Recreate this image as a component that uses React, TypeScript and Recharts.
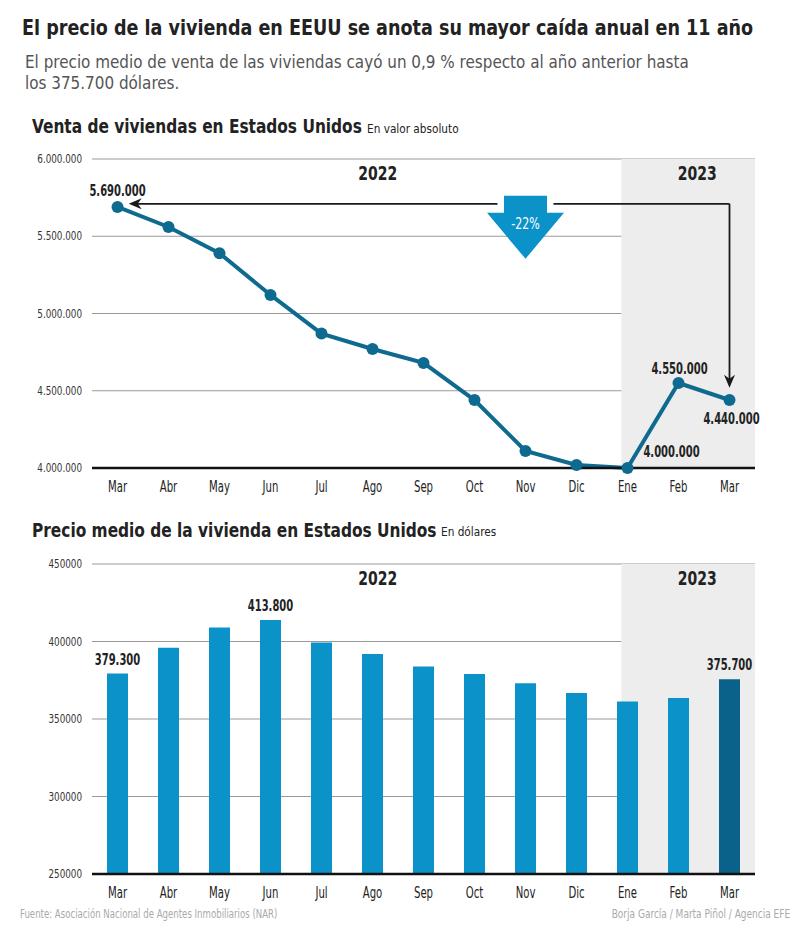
import React from 'react';
import {
  LineChart, Line, BarChart, Bar, XAxis, YAxis, CartesianGrid,
  ReferenceArea, ReferenceLine, ReferenceDot, LabelList, Cell,
} from 'recharts';

const months = ['Mar', 'Abr', 'May', 'Jun', 'Jul', 'Ago', 'Sep', 'Oct', 'Nov', 'Dic', 'Ene', 'Feb', 'Mar'];
const salesValues = [5690000, 5560000, 5390000, 5120000, 4870000, 4770000, 4680000, 4440000, 4110000, 4020000, 4000000, 4550000, 4440000];
const priceValues = [379300, 396000, 409000, 413800, 399300, 392000, 383800, 379000, 373000, 366700, 361300, 363500, 375700];
const salesTicks = [4000000, 4500000, 5000000, 5500000, 6000000];
const priceTicks = [250000, 300000, 350000, 400000, 450000];
const years = ['2022', '2023'];
const salesLabelIdx = [0, 10, 11, 12];
const priceLabelIdx = [0, 3, 12];
const changeLabel = '-22%';
const arrowLevel = 5710000;
const arrowEnd = 4520000;
const start2023 = 9.88;
const arrowAt = 8;

const FONT = '"DejaVu Sans Condensed", "Liberation Sans Narrow", "Arial Narrow", sans-serif';
const LINE_C = '#0f6a90';
const BAR_C = '#0b93c9';
const BAR_DARK = '#0a6189';
const GRAY = '#ededed';
const NARROW = 0.74;

const salesData = salesValues.map((v, i) => ({ i, v }));
const priceData = priceValues.map((v, i) => ({ i, v }));
const lo = -0.5;
const hi = months.length - 0.5;
const boundaryTicks = months.map((_, i) => i - 0.5).concat([hi]);
const centerTicks = months.map((_, i) => i);

const fmtDots = (n: number) => String(Math.round(n)).replace(/\B(?=(\d{3})+(?!\d))/g, '.');

const CT = ({ x, y, sx, children, ...rest }: any) => (
  <text transform={`translate(${x},${y}) scale(${sx},1)`} x={0} y={0} fontFamily={FONT} {...rest}>{children}</text>
);

const arrowShape = (props: any) => {
  const { x1, y1, x2, y2 } = props;
  const dx = x2 - x1;
  const dy = y2 - y1;
  const len = Math.sqrt(dx * dx + dy * dy) || 1;
  const ux = dx / len;
  const uy = dy / len;
  const px = -uy;
  const py = ux;
  const L = 13;
  const W = 5.5;
  const N = 9;
  const bx = x2 - ux * L;
  const by = y2 - uy * L;
  const nx = x2 - ux * N;
  const ny = y2 - uy * N;
  const d = `M${x2},${y2} L${bx + px * W},${by + py * W} L${nx},${ny} L${bx - px * W},${by - py * W} Z`;
  return (
    <g>
      <line x1={x1} y1={y1} x2={x2 - ux * 6} y2={y2 - uy * 6} stroke="#1a1a1a" strokeWidth={1.8} />
      <path d={d} fill="#1a1a1a" />
    </g>
  );
};

const blockArrow = (props: any) => {
  const { cx, cy } = props;
  const d = `M${cx - 21.5},${cy - 8} L${cx + 21.5},${cy - 8} L${cx + 21.5},${cy + 9} L${cx + 38.5},${cy + 9} L${cx},${cy + 55} L${cx - 38.5},${cy + 9} L${cx - 21.5},${cy + 9} Z`;
  return (
    <g>
      <rect x={cx - 28} y={cy - 4} width={56} height={8} fill="#fff" />
      <path d={d} fill="#0b93c9" />
      <CT x={cx} y={cy + 25} sx={0.82} textAnchor="middle" fill="#fff" fontSize={15}>{changeLabel}</CT>
    </g>
  );
};

const salesLabel = (p: any) => {
  const { x, y, value, index } = p;
  if (!salesLabelIdx.includes(index)) return null;
  let dx = 0;
  let dy = -11;
  if (index === 10) { dx = 44; dy = -11; }
  if (index === 11) { dx = 1; dy = -9; }
  if (index === 12) { dx = 2; dy = 24; }
  return (
    <CT x={x + dx} y={y + dy} sx={NARROW} textAnchor="middle" fill="#222" fontSize={15} fontWeight={700}>
      {fmtDots(value)}
    </CT>
  );
};

const priceLabel = (p: any) => {
  const { x, y, width, value, index } = p;
  if (!priceLabelIdx.includes(index)) return null;
  return (
    <CT x={x + width / 2} y={y - 9} sx={NARROW} textAnchor="middle" fill="#222" fontSize={15} fontWeight={700}>
      {fmtDots(value)}
    </CT>
  );
};

const yearContent = (text: string, dx: number) => (props: any) => {
  const vb = props.viewBox || {};
  return (
    <CT x={vb.x + vb.width / 2 + dx} y={vb.y + 21} sx={0.82} textAnchor="middle" fill="#222" fontSize={19} fontWeight={700}>
      {text}
    </CT>
  );
};

const monthTick = (p: any) => (
  <CT x={p.x} y={p.y} sx={0.75} dy="0.71em" textAnchor="middle" fill="#222" fontSize={15}>
    {months[p.payload.value]}
  </CT>
);

const yTick = (fmt: (n: number) => string) => (p: any) => (
  <CT x={p.x} y={p.y} sx={0.85} dy="0.355em" textAnchor="end" fill="#333" fontSize={11.5}>
    {fmt(p.payload.value)}
  </CT>
);

const commonX = (id: string) => [
  <XAxis key="t" xAxisId={id} type="number" dataKey="i" domain={[lo, hi]} allowDataOverflow ticks={boundaryTicks}
    tick={false} tickSize={-7} height={1} axisLine={{ stroke: '#111', strokeWidth: 2.5 }} tickLine={{ stroke: '#111', strokeWidth: 1.5 }} />,
  <XAxis key="l" xAxisId={id + 'l'} type="number" dataKey="i" domain={[lo, hi]} allowDataOverflow ticks={centerTicks}
    interval={0} axisLine={false} tickLine={false} tickSize={0} tickMargin={12}
    height={30} tick={monthTick} />,
];

const abs = (extra: any) => ({ position: 'absolute' as const, whiteSpace: 'nowrap' as const, ...extra });

export default function App() {
  return (
    <div style={{ position: 'absolute', left: 0, top: 0, width: 800, height: 930, background: '#fff', fontFamily: FONT, color: '#222', overflow: 'hidden' }}>
      <div style={abs({ left: 22, top: 16, fontSize: 21, lineHeight: '24px', fontWeight: 700, transform: 'scaleX(0.93)', transformOrigin: 'left top' })}>
        El precio de la vivienda en EEUU se anota su mayor caída anual en 11 año
      </div>
      <div style={abs({ left: 25, top: 52, fontSize: 16.9, lineHeight: '21px', color: '#555' })}>
        El precio medio de venta de las viviendas cayó un 0,9 % respecto al año anterior hasta<br />los 375.700 dólares.
      </div>
      <div style={abs({ left: 32, top: 115, fontSize: 19, lineHeight: '22px', fontWeight: 700, transform: 'scaleX(0.9)', transformOrigin: 'left top' })}>
        Venta de viviendas en Estados Unidos
      </div>
      <div style={abs({ left: 367, top: 117.5, fontSize: 13, lineHeight: '22px', transform: 'scaleX(0.9)', transformOrigin: 'left top' })}>
        En valor absoluto
      </div>
      <div style={abs({ left: 32, top: 518.5, fontSize: 19, lineHeight: '22px', fontWeight: 700, transform: 'scaleX(0.9)', transformOrigin: 'left top' })}>
        Precio medio de la vivienda en Estados Unidos
      </div>
      <div style={abs({ left: 441, top: 521, fontSize: 13, lineHeight: '22px', transform: 'scaleX(0.9)', transformOrigin: 'left top' })}>
        En dólares
      </div>

      <div style={{ position: 'absolute', left: 0, top: 140 }}>
        <LineChart width={800} height={359} data={salesData} margin={{ top: 19, right: 45, left: 0, bottom: 0 }}>
          {commonX('x')}
          <YAxis yAxisId="y" type="number" domain={[4000000, 6000000]} ticks={salesTicks} width={92} axisLine={false}
            tickLine={false} tickSize={0} tickMargin={10} tick={yTick(fmtDots)} />
          <ReferenceArea xAxisId="x" yAxisId="y" x1={lo} x2={start2023} fillOpacity={0} strokeOpacity={0}
            label={yearContent(years[0], 21)} />
          <ReferenceArea xAxisId="x" yAxisId="y" x1={start2023} x2={hi} fill={GRAY} fillOpacity={1} strokeOpacity={0}
            label={yearContent(years[1], 9)} />
          <CartesianGrid xAxisId="x" yAxisId="y" vertical={false} stroke="#9a9a9a" strokeWidth={1} />
          <ReferenceLine xAxisId="x" yAxisId="y" segment={[{ x: 12, y: arrowLevel }, { x: 0.22, y: arrowLevel }]} shape={arrowShape} />
          <ReferenceLine xAxisId="x" yAxisId="y" segment={[{ x: 12, y: arrowLevel }, { x: 12, y: arrowEnd }]} shape={arrowShape} />
          <ReferenceDot xAxisId="x" yAxisId="y" x={arrowAt} y={arrowLevel} r={1} shape={blockArrow} />
          <Line xAxisId="x" yAxisId="y" dataKey="v" stroke={LINE_C} strokeWidth={4} isAnimationActive={false}
            dot={{ r: 6, fill: LINE_C, stroke: LINE_C, strokeWidth: 0 }} activeDot={false}>
            <LabelList dataKey="v" content={salesLabel} />
          </Line>
        </LineChart>
      </div>

      <div style={{ position: 'absolute', left: 0, top: 540 }}>
        <BarChart width={800} height={365} data={priceData} margin={{ top: 24, right: 45, left: 0, bottom: 0 }}>
          {commonX('x')}
          <YAxis yAxisId="y" type="number" domain={[250000, 450000]} ticks={priceTicks} width={92} axisLine={false}
            tickLine={false} tickSize={0} tickMargin={10} tick={yTick((n) => String(n))} />
          <ReferenceArea xAxisId="x" yAxisId="y" x1={lo} x2={start2023} fillOpacity={0} strokeOpacity={0}
            label={yearContent(years[0], 21)} />
          <ReferenceArea xAxisId="x" yAxisId="y" x1={start2023} x2={hi} fill={GRAY} fillOpacity={1} strokeOpacity={0}
            label={yearContent(years[1], 9)} />
          <CartesianGrid xAxisId="x" yAxisId="y" vertical={false} stroke="#9a9a9a" strokeWidth={1} />
          <Bar xAxisId="x" yAxisId="y" dataKey="v" barSize={21} isAnimationActive={false}>
            {priceData.map((d, i) => (
              <Cell key={i} fill={i === priceData.length - 1 ? BAR_DARK : BAR_C} />
            ))}
            <LabelList dataKey="v" content={priceLabel} />
          </Bar>
        </BarChart>
      </div>

      <div style={abs({ left: 20, top: 907, fontSize: 11.5, color: '#aaa', transform: 'scaleX(0.83)', transformOrigin: 'left top' })}>
        Fuente: Asociación Nacional de Agentes Inmobiliarios (NAR)
      </div>
      <div style={abs({ right: 10, top: 907, fontSize: 11.5, color: '#aaa', transform: 'scaleX(0.87)', transformOrigin: 'right top' })}>
        Borja García / Marta Piñol / Agencia EFE
      </div>
    </div>
  );
}
